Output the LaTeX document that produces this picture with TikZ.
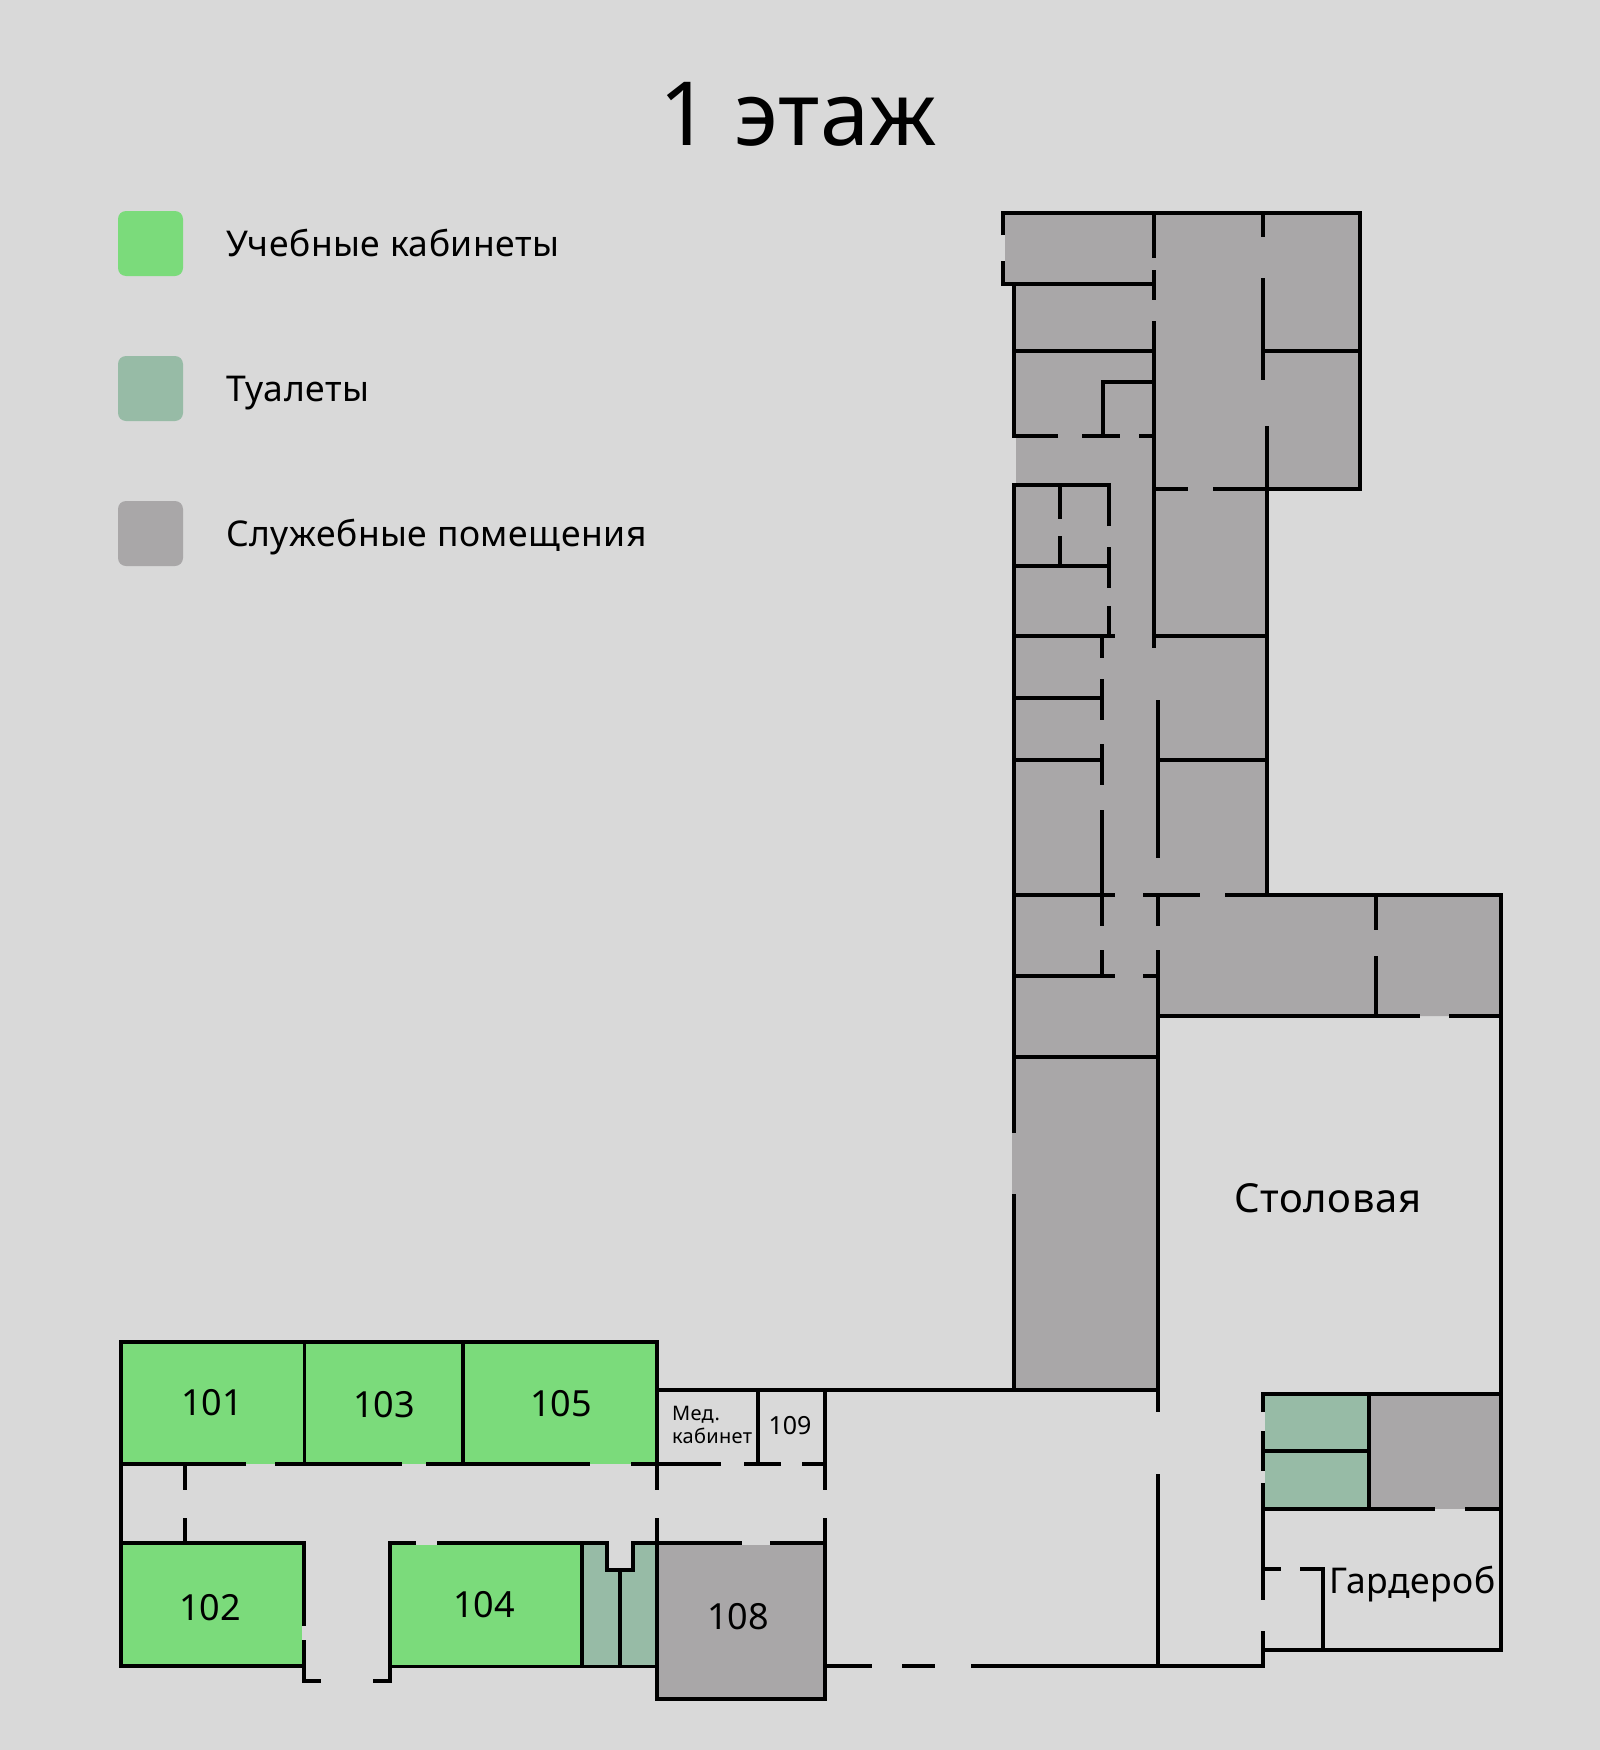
\documentclass[tikz,border=0pt]{standalone}
\usepackage{fontspec}
\setmainfont[LetterSpace=1.5]{Noto Sans}
\newfontfamily\numfont{Noto Sans}
\definecolor{floorbg}{HTML}{D9D9D9}
\definecolor{roomgreen}{HTML}{7BDB7B}
\definecolor{roomwc}{HTML}{97BBA6}
\definecolor{roomgray}{HTML}{A9A7A8}
\begin{document}
\begin{tikzpicture}[x=1pt, y=-1pt,
    wall/.style = {draw=black, line width=4pt, line join=miter},
    thinwall/.style = {draw=black, line width=3pt},
    key/.style = {rounded corners=8pt},
    lbl/.style = {inner sep=0pt, font=\numfont\fontsize{36}{36}\selectfont},
    keylbl/.style = {inner sep=0pt, anchor=base west, font=\fontsize{35.5}{36}\selectfont}]
    \useasboundingbox (0,0) rectangle (1600,1750);
    \fill[floorbg] (0,0) rectangle (1600,1750);

    \fill[roomgray] (1005,213) -- (1360,213) -- (1360,489) -- (1267,489) -- (1267,895) -- (1501,895) -- (1501,1016) -- (1158,1016) -- (1158,1390) -- (1012,1390) -- (1012,485) -- (1016,485) -- (1016,436) -- (1014,436) -- (1014,284) -- (1005,284) -- cycle;
    \fill[roomgreen] (121,1342) rectangle (657,1464);
    \fill[roomgreen] (121,1543) rectangle (302,1666);
    \fill[roomgreen] (390,1545) rectangle (582,1666);
    \fill[roomwc] (582,1543) -- (607,1543) -- (607,1570) -- (633,1570) -- (633,1543) -- (657,1543) -- (657,1666) -- (582,1666) -- cycle;
    \fill[roomgray] (657,1545) rectangle (825,1699);
    \fill[roomwc] (1265,1394) rectangle (1369,1509);
    \fill[roomgray] (1369,1394) rectangle (1501,1509);

    \draw[wall] (1003,235) -- (1003,213) -- (1360,213) -- (1360,489) -- (1213,489);
    \draw[wall] (1003,261) -- (1003,284) -- (1156,284);
    \draw[wall] (1058,436) -- (1014,436) -- (1014,284);
    \draw[wall] (1082,436) -- (1120,436) (1139,436) -- (1154,436);
    \draw[wall] (1154,211) -- (1154,258) (1154,270) -- (1154,300) (1154,321) -- (1154,648);
    \draw[wall] (1263,211) -- (1263,237) (1263,278) -- (1263,380);
    \draw[wall] (1014,351) -- (1154,351) (1263,351) -- (1360,351);
    \draw[wall] (1154,382) -- (1103,382) -- (1103,436);
    \draw[wall] (1267,426) -- (1267,897);
    \draw[wall] (1154,489) -- (1188,489);
    \draw[wall] (1109,526) -- (1109,485) -- (1014,485) -- (1014,1133);
    \draw[wall] (1060,485) -- (1060,519) (1060,536) -- (1060,566);
    \draw[wall] (1014,566) -- (1109,566);
    \draw[wall] (1109,547) -- (1109,588) (1109,606) -- (1109,636);
    \draw[wall] (1014,636) -- (1115,636) (1154,636) -- (1267,636);
    \draw[wall] (1102,636) -- (1102,658) (1102,679) -- (1102,720) (1102,744) -- (1102,785) (1102,810) -- (1102,926) (1102,950) -- (1102,976);
    \draw[wall] (1014,698) -- (1102,698);
    \draw[wall] (1014,760) -- (1102,760) (1158,760) -- (1267,760);
    \draw[wall] (1158,700) -- (1158,858);
    \draw[wall] (1014,895) -- (1115,895) (1143,895) -- (1200,895);
    \draw[wall] (1225,895) -- (1501,895) -- (1501,1650) -- (1263,1650);
    \draw[wall] (1158,897) -- (1158,926) (1158,950) -- (1158,1412) (1158,1474) -- (1158,1666);
    \draw[wall] (1014,976) -- (1115,976) (1143,976) -- (1158,976);
    \draw[wall] (1158,1016) -- (1420,1016) (1449,1016) -- (1501,1016);
    \draw[wall] (1376,895) -- (1376,930) (1376,956) -- (1376,1016);
    \draw[wall] (1014,1057) -- (1158,1057);
    \draw[wall] (1014,1194) -- (1014,1392);
    \draw[wall] (657,1390) -- (1160,1390);

    \draw[wall] (246,1464) -- (121,1464);
    \draw[wall] (657,1342) -- (121,1342) -- (121,1666) -- (304,1666);
    \draw[wall] (275,1464) -- (402,1464) (426,1464) -- (590,1464) (631,1464) -- (721,1464) (744,1464) -- (781,1464) (802,1464) -- (827,1464);
    \draw[thinwall] (304,1342) -- (304,1464);
    \draw[wall] (463,1342) -- (463,1464);
    \draw[wall] (185,1464) -- (185,1490) (185,1518) -- (185,1543);
    \draw[wall] (121,1543) -- (304,1543) -- (304,1626);
    \draw[wall] (304,1640) -- (304,1681) -- (321,1681);
    \draw[wall] (416,1543) -- (390,1543) -- (390,1681) -- (373,1681);
    \draw[wall] (437,1543) -- (607,1543) -- (607,1570) -- (633,1570) -- (633,1543) -- (742,1543);
    \draw[wall] (770,1543) -- (825,1543);
    \draw[thinwall] (390,1666) -- (657,1666);
    \draw[wall] (582,1543) -- (582,1666) (620,1570) -- (620,1666);
    \draw[wall] (657,1340) -- (657,1490) (657,1518) -- (657,1699) -- (825,1699) -- (825,1518);
    \draw[wall] (825,1388) -- (825,1490);
    \draw[wall] (758,1390) -- (758,1464);
    \draw[wall] (825,1666) -- (872,1666) (902,1666) -- (935,1666) (971,1666) -- (1263,1666) -- (1263,1631);
    \draw[wall] (1263,1412) -- (1263,1394) -- (1501,1394);
    \draw[wall] (1263,1431) -- (1263,1471) (1263,1483) -- (1263,1600);
    \draw[wall] (1263,1451) -- (1369,1451);
    \draw[wall] (1369,1394) -- (1369,1509);
    \draw[wall] (1263,1509) -- (1435,1509) (1465,1509) -- (1501,1509);
    \draw[wall] (1263,1569) -- (1281,1569);
    \draw[wall] (1300,1569) -- (1323,1569) -- (1323,1650);

    \fill[roomgreen, key] (118,211) rectangle (183,276);
    \fill[roomwc, key] (118,356) rectangle (183,421);
    \fill[roomgray, key] (118,501) rectangle (183,566);
    \node[keylbl] (keyclass) at (226,256) {Учебные кабинеты};
    \node[keylbl] (keywc) at (226,401) {Туалеты};
    \node[keylbl] (keyservice) at (226,546) {Служебные помещения};

    \node[inner sep=0pt, font=\fontsize{88.5}{90}\selectfont] (title) at (798,114) {1 этаж};
    \node[lbl] (r101) at (212,1403) {101};
    \node[lbl] (r103) at (384,1405) {103};
    \node[lbl] (r105) at (561,1404) {105};
    \node[lbl] (r102) at (210,1608) {102};
    \node[lbl] (r104) at (484,1605) {104};
    \node[lbl] (r108) at (738,1617) {108};
    \node[lbl, font=\numfont\fontsize{25}{25}\selectfont] (r109) at (790,1426) {109};
    \node[inner sep=0pt, anchor=base west, font=\fontsize{20}{23}\selectfont, align=left] (med) at (672,1443) {Мед.\\кабинет};
    \node[keylbl, font=\fontsize{40}{40}\selectfont] (dining) at (1234,1212) {Столовая};
    \node[keylbl, font=\fontsize{35.5}{36}\selectfont] (cloak) at (1329,1593) {Гардероб};
\end{tikzpicture}
\end{document}
